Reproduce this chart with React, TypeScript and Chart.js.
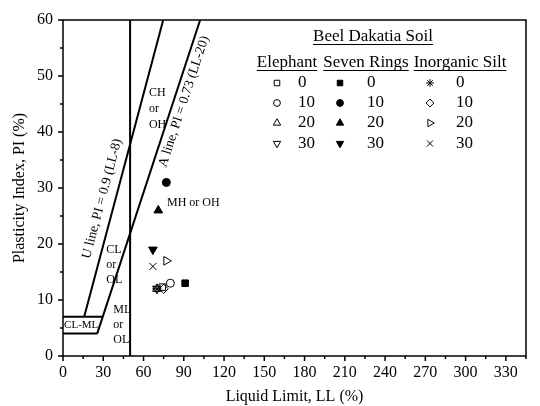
import React, { useEffect, useRef } from 'react';
import { Chart, registerables } from 'chart.js';
import { drawPoint } from 'chart.js/helpers';

Chart.register(...registerables);

const FONT = '"Liberation Serif", "Times New Roman", Times, serif';

// Liquid limit (LL) and plasticity index (PI), in admixture order 0, 10, 20, 30 %
const admixture = ['0', '10', '20', '30'];
const elephantLL = [74, 80, 70, 70];
const elephantPI = [12.3, 13, 12, 12];
const sevenRingsLL = [91, 77, 71, 67];
const sevenRingsPI = [13, 31, 26, 19];
const siltLL = [70, 75, 77, 67];
const siltPI = [12, 12, 17, 16];

const legendTitle = 'Beel Dakatia Soil';
const groupNames = ['Elephant', 'Seven Rings', 'Inorganic Silt'];

// Axis ranges
const xMax = 345;
const yMax = 60;

// A line, PI = 0.73 (LL-20), drawn from PI 4 up to PI 60
const aLineLL = [25.48, 102.19];
const aLinePI = [4, 60];
// U line, PI = 0.9 (LL-8), drawn from PI 7 up to PI 60
const uLineLL = [15.78, 74.67];
const uLinePI = [7, 60];
// LL = 50 divide between low and high plasticity
const divideLL = [50, 50];
const dividePI = [0, 60];
// CL-ML band edges (PI 7 and PI 4), ending on the A line
const bandTopLL = [0, 29.59];
const bandTopPI = [7, 7];
const bandBottomLL = [0, 25.48];
const bandBottomPI = [4, 4];

type Marker = { style: string; rotation: number; filled: boolean; radius: number };

const mk = (style: string, rotation: number, filled: boolean): Marker => {
  const radius: Record<string, number> = {
    rect: 4.6, circle: 4, triangle: 5, rectRot: 4.6, star: 4.6, crossRot: 5,
  };
  return { style, rotation, filled, radius: radius[style] };
};

const groupMarkers: Marker[][] = [
  [mk('rect', 0, false), mk('circle', 0, false), mk('triangle', 0, false), mk('triangle', 180, false)],
  [mk('rect', 0, true), mk('circle', 0, true), mk('triangle', 0, true), mk('triangle', 180, true)],
  [mk('star', 0, false), mk('rectRot', 0, false), mk('triangle', 90, false), mk('crossRot', 0, false)],
];

const groups = [
  { ll: elephantLL, pi: elephantPI },
  { ll: sevenRingsLL, pi: sevenRingsPI },
  { ll: siltLL, pi: siltPI },
];

const guide = (xs: number[], ys: number[]) => ({
  data: xs.map((x, i) => ({ x, y: ys[i] })),
  showLine: true,
  borderColor: '#000',
  borderWidth: 2,
  pointRadius: 0,
  pointHoverRadius: 0,
  fill: false,
  tension: 0,
});

const plasticityPlugin = {
  id: 'plasticityDecor',
  afterDatasetsDraw(chart: any) {
    const { ctx, chartArea: a, scales } = chart;
    const x = scales.x;
    const y = scales.y;
    ctx.save();

    // frame
    ctx.strokeStyle = '#000';
    ctx.lineWidth = 1.5;
    ctx.strokeRect(a.left, a.top, a.right - a.left, a.bottom - a.top);

    // outward ticks, major and minor
    ctx.lineWidth = 1.5;
    ctx.beginPath();
    for (let v = 0; v <= xMax; v += 15) {
      const px = x.getPixelForValue(v);
      const len = v % 30 === 0 ? 5 : 3;
      ctx.moveTo(px, a.bottom);
      ctx.lineTo(px, a.bottom + len);
    }
    for (let v = 0; v <= yMax; v += 5) {
      const py = y.getPixelForValue(v);
      const len = v % 10 === 0 ? 5 : 3;
      ctx.moveTo(a.left, py);
      ctx.lineTo(a.left - len, py);
    }
    ctx.stroke();

    // zone names
    ctx.fillStyle = '#000';
    ctx.textAlign = 'left';
    ctx.textBaseline = 'middle';
    const zone = (lines: string[], ll: number, pi: number, size: number, step: number) => {
      ctx.font = `${size}px ${FONT}`;
      const px = x.getPixelForValue(ll);
      const py = y.getPixelForValue(pi);
      lines.forEach((t, i) => ctx.fillText(t, px, py + i * step));
    };
    zone(['CL-ML'], 0.8, 5.5, 11, 0);
    zone(['ML', 'or', 'OL'], 37.5, 8.2, 12, 15);
    zone(['CL', 'or', 'OL'], 32.2, 18.9, 12, 15);
    zone(['CH', 'or', 'OH'], 64, 47, 12, 16);
    zone(['MH or OH'], 77.5, 27.3, 12, 0);

    // labels running along the A and U lines
    const along = (text: string, xs: number[], ys: number[], atPI: number, offset: number) => {
      const p1x = x.getPixelForValue(xs[0]);
      const p1y = y.getPixelForValue(ys[0]);
      const p2x = x.getPixelForValue(xs[1]);
      const p2y = y.getPixelForValue(ys[1]);
      const t = (atPI - ys[0]) / (ys[1] - ys[0]);
      const cx = p1x + (p2x - p1x) * t;
      const cy = p1y + (p2y - p1y) * t;
      const ang = Math.atan2(p2y - p1y, p2x - p1x);
      ctx.save();
      ctx.translate(cx, cy);
      ctx.rotate(ang);
      ctx.font = `13.5px ${FONT}`;
      ctx.textAlign = 'center';
      ctx.textBaseline = 'middle';
      ctx.fillText(text, 0, offset);
      ctx.restore();
    };
    along('U line, PI = 0.9 (LL-8)', uLineLL, uLinePI, 27.5, -13);
    along('A line, PI = 0.73 (LL-20)', aLineLL, aLinePI, 46, 10);

    // legend
    const underlined = (text: string, cx: number, cy: number) => {
      const w = ctx.measureText(text).width;
      ctx.fillText(text, cx, cy);
      ctx.beginPath();
      ctx.lineWidth = 1;
      ctx.moveTo(cx - w / 2, cy + 7.5);
      ctx.lineTo(cx + w / 2, cy + 7.5);
      ctx.stroke();
    };
    ctx.font = `17px ${FONT}`;
    ctx.textAlign = 'center';
    underlined(legendTitle, 373, 37);
    const headerX = [287, 366, 460];
    groupNames.forEach((g, i) => underlined(g, headerX[i], 63));

    const markerX = [277, 340, 430];
    const numberX = [298, 367, 456];
    const rowY = [83, 103, 123, 143.5];
    groupMarkers.forEach((col, gi) => {
      col.forEach((m, i) => {
        ctx.lineWidth = 1;
        ctx.strokeStyle = '#000';
        ctx.fillStyle = m.filled ? '#000' : 'rgba(0,0,0,0)';
        drawPoint(ctx, { pointStyle: m.style, radius: m.radius * 0.85, rotation: m.rotation, borderWidth: 1 } as any,
          markerX[gi], rowY[i]);
        ctx.fillStyle = '#000';
        ctx.textAlign = 'left';
        ctx.font = `17px ${FONT}`;
        ctx.fillText(admixture[i], numberX[gi], rowY[i]);
      });
    });

    ctx.restore();
  },
};

export default function App() {
  const ref = useRef<HTMLCanvasElement>(null);

  useEffect(() => {
    if (!ref.current) return;

    const samples: any[] = [];
    groups.forEach((g, gi) => {
      g.ll.forEach((ll, i) => {
        const m = groupMarkers[gi][i];
        samples.push({
          data: [{ x: ll, y: g.pi[i] }],
          showLine: false,
          pointStyle: m.style,
          pointRotation: m.rotation,
          pointRadius: m.radius,
          pointHoverRadius: m.radius,
          pointBackgroundColor: m.filled ? '#000' : 'rgba(0,0,0,0)',
          pointBorderColor: '#000',
          pointBorderWidth: 1,
        });
      });
    });

    const chart = new Chart(ref.current, {
      type: 'scatter',
      data: {
        datasets: [
          guide(aLineLL, aLinePI),
          guide(uLineLL, uLinePI),
          guide(divideLL, dividePI),
          guide(bandTopLL, bandTopPI),
          guide(bandBottomLL, bandBottomPI),
          ...samples,
        ] as any,
      },
      options: {
        responsive: false,
        animation: false,
        events: [],
        layout: { padding: { top: 20, right: 14, left: 0, bottom: 0 } },
        plugins: { legend: { display: false }, tooltip: { enabled: false } },
        scales: {
          x: {
            type: 'linear',
            min: 0,
            max: xMax,
            afterFit: (s: any) => { s.height = 50; },
            grid: { display: false, drawTicks: false },
            border: { display: false },
            ticks: {
              stepSize: 15,
              autoSkip: false,
              maxRotation: 0,
              padding: 7,
              color: '#000',
              font: { family: FONT, size: 16 },
              callback: (v: any) => (Number(v) % 30 === 0 ? String(v) : ''),
            },
            title: {
              display: true,
              text: 'Liquid Limit, LL (%)',
              color: '#000',
              font: { family: FONT, size: 16 },
              padding: { top: 0, bottom: 0 },
            },
          },
          y: {
            type: 'linear',
            min: 0,
            max: yMax,
            afterFit: (s: any) => { s.width = 63; },
            grid: { display: false, drawTicks: false },
            border: { display: false },
            ticks: {
              stepSize: 5,
              autoSkip: false,
              padding: 10,
              color: '#000',
              font: { family: FONT, size: 16 },
              callback: (v: any) => (Number(v) % 10 === 0 ? String(v) : ''),
            },
            title: {
              display: true,
              text: 'Plasticity Index, PI (%)',
              color: '#000',
              font: { family: FONT, size: 16 },
              padding: { top: 10, bottom: 0 },
            },
          },
        },
      } as any,
      plugins: [plasticityPlugin],
    });

    return () => chart.destroy();
  }, []);

  return (
    <div style={{ position: 'fixed', left: 0, top: 0, width: 540, height: 406, background: '#fff' }}>
      <canvas ref={ref} width={540} height={406} style={{ display: 'block' }} />
    </div>
  );
}
